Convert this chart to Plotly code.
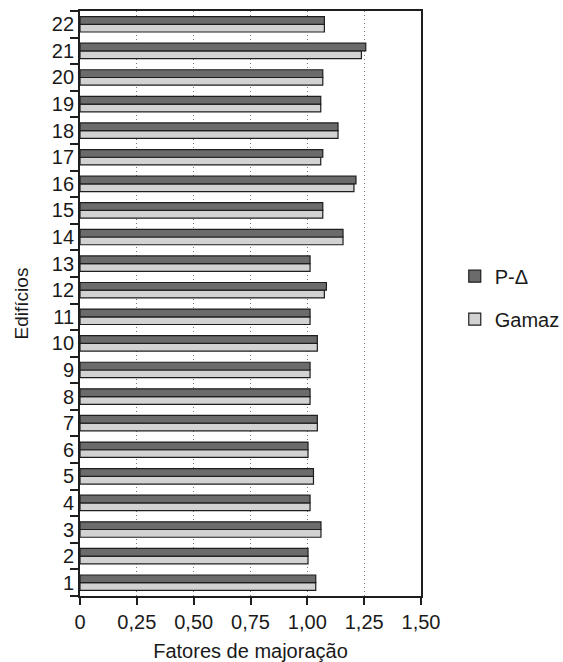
import plotly.graph_objects as go

# Buildings 1..22 and the two magnification factors per building
edificios = [str(i) for i in range(1, 23)]
p_delta = [1.037, 1.003, 1.060, 1.012, 1.027, 1.003, 1.044, 1.012, 1.012, 1.044, 1.012,
           1.084, 1.012, 1.157, 1.068, 1.214, 1.068, 1.135, 1.059, 1.068, 1.257, 1.075]
gamaz = [1.037, 1.003, 1.060, 1.012, 1.027, 1.003, 1.044, 1.012, 1.012, 1.044, 1.012,
         1.075, 1.012, 1.157, 1.068, 1.205, 1.059, 1.135, 1.059, 1.068, 1.238, 1.075]

x_ticks = [0, 0.25, 0.5, 0.75, 1.0, 1.25, 1.5]
x_tick_labels = ["0", "0,25", "0,50", "0,75", "1,00", "1,25", "1,50"]

FONT = "Liberation Sans, Arial, sans-serif"
DARK = "#6b6b6b"
LIGHT = "#d2d2d2"
EDGE = "#1e1e1e"

fig = go.Figure()
# Gamaz first so that P-Δ sits above it inside each pair
fig.add_trace(go.Bar(
    y=edificios, x=gamaz, orientation="h", name="Gamaz",
    marker=dict(color=LIGHT, line=dict(color=EDGE, width=1.2)),
    legendgroup="g", legendrank=2,
))
fig.add_trace(go.Bar(
    y=edificios, x=p_delta, orientation="h", name="P-Δ",
    marker=dict(color=DARK, line=dict(color=EDGE, width=1.2)),
    legendgroup="p", legendrank=1,
))

fig.update_layout(
    width=563, height=662,
    margin=dict(l=80, r=142, t=11, b=66, autoexpand=False),
    paper_bgcolor="white", plot_bgcolor="white",
    barmode="group", bargap=0.42, bargroupgap=0,
    font=dict(family=FONT, color="#1a1a1a", size=19),
    showlegend=True,
    legend=dict(
        x=1.099, xanchor="left", y=0.58, yanchor="top",
        font=dict(family=FONT, size=20, color="#1a1a1a"),
        tracegroupgap=14, itemwidth=30,
        bgcolor="rgba(0,0,0,0)",
    ),
    xaxis=dict(
        range=[0, 1.5], tickvals=x_ticks, ticktext=x_tick_labels,
        tickfont=dict(size=20, family=FONT, color="#1a1a1a"),
        ticks="outside", ticklen=7, tickwidth=1.5, tickcolor=EDGE,
        showline=True, linecolor=EDGE, linewidth=1.8, mirror=True,
        showgrid=True, gridcolor="#777777", gridwidth=1, griddash="1px,3px",
        zeroline=False,
        title=dict(text="Fatores de majoração", font=dict(size=20, family=FONT),
                   standoff=17),
    ),
    yaxis=dict(
        type="category", categoryorder="array", categoryarray=edificios,
        range=[-0.5, 21.5],
        tickfont=dict(size=20, family=FONT, color="#1a1a1a"),
        ticks="outside", ticklen=8, tickwidth=1.5, tickcolor=EDGE,
        tickson="boundaries",
        showline=True, linecolor=EDGE, linewidth=1.8, mirror=True,
        showgrid=False, zeroline=False,
        title=dict(text="Edifícios", font=dict(size=19, family=FONT), standoff=18),
    ),
)

fig.write_html("out.html")
